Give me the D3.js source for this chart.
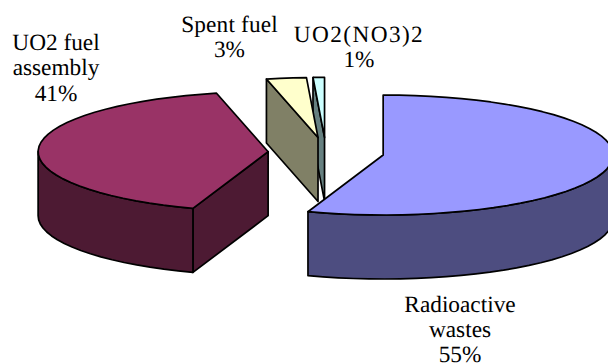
<!DOCTYPE html>
<html>
<head>
	<script src="https://d3js.org/d3.v7.min.js"></script>
	<meta charset="utf-8">
	<title>Waste pie</title>
	<style>
		html, body { margin: 0; padding: 0; background: #fff; overflow: hidden; }
		svg { display: block; }
		text { font-family: "Liberation Serif", serif; font-size: 23.3px; fill: #000; text-rendering: geometricPrecision; }
	</style>
</head>
<body>
	<div id="chart"></div>

	<script type="text/javascript">
		// data, labels show the rounded value
		var categories = ["Radioactive wastes", "UO2 fuel assembly", "Spent fuel", "UO2(NO3)2"];
		var values = [55.3, 41.1, 2.8, 0.8];
		var topColors = ["#9999ff", "#993366", "#ffffcc", "#ccffff"];
		var sideColors = ["#4d4d80", "#4d1a33", "#808066", "#668080"];
		var labelLines = [["Radioactive", "wastes"], ["UO2 fuel", "assembly"], ["Spent fuel"], ["UO2(NO3)2"]];
		var labelX = [460, 56, 229.5, 359];
		var labelY = [311.5, 50, 32, 42];
		var labelSpacing = [0, 0, 0.15, 1.4];

		var width = 608, height = 363;
		var cx = 326, cy = 152.5;   // pie centre before exploding
		var rx = 230, ry = 60;      // ellipse of the tilted pie
		var depth = 64;
		var explode = 0.252;
		var lineGap = 25.3;
		var step = Math.PI / 45;

		var svg = d3.select("#chart").append("svg")
			.attr("width", width)
			.attr("height", height);

		var slices = d3.pie().sort(null)(values).map(function(d, i) {
			var mid = (d.startAngle + d.endAngle) / 2;
			d.i = i;
			d.x0 = cx + rx * explode * Math.sin(mid);
			d.y0 = cy - ry * explode * Math.cos(mid);
			return d;
		});

		// angle on the ellipse of one slice to a screen point
		function pt(d, a, drop) {
			return [d.x0 + rx * Math.sin(a), d.y0 - ry * Math.cos(a) + (drop || 0)];
		}

		function arcPts(d, a0, a1, drop) {
			var n = Math.max(1, Math.ceil((a1 - a0) / step));
			return d3.range(n + 1).map(function(k) {
				return pt(d, a0 + (a1 - a0) * k / n, drop);
			});
		}

		var line = d3.line().curve(d3.curveLinearClosed);

		function cutWall(d, a) {
			var c = [d.x0, d.y0];
			var e = pt(d, a);
			return line([c, e, [e[0], e[1] + depth], [c[0], c[1] + depth]]);
		}

		function outerWall(d) {
			var a0 = Math.max(d.startAngle, Math.PI / 2);
			var a1 = Math.min(d.endAngle, Math.PI * 1.5);
			if (a1 <= a0) return null;
			return line(arcPts(d, a0, a1, 0).concat(arcPts(d, a0, a1, depth).reverse()));
		}

		function topFace(d) {
			return line([[d.x0, d.y0]].concat(arcPts(d, d.startAngle, d.endAngle, 0)));
		}

		// back to front, the last slices are the ones behind
		var groups = svg.selectAll(".slice")
			.data(slices.slice().reverse())
			.enter()
			.append("g")
			.attr("class", "slice")
			.attr("stroke", "#000")
			.attr("stroke-width", 1.7)
			.attr("stroke-linejoin", "round");

		groups.each(function(d) {
			var g = d3.select(this);
			// the cut face at the start angle only faces us past 180deg
			if (d.startAngle > Math.PI) {
				g.append("path").attr("d", cutWall(d, d.startAngle)).attr("fill", sideColors[d.i]);
			}
			if (d.endAngle < Math.PI) {
				g.append("path").attr("d", cutWall(d, d.endAngle)).attr("fill", sideColors[d.i]);
			}
			var w = outerWall(d);
			if (w) g.append("path").attr("d", w).attr("fill", sideColors[d.i]);
			g.append("path").attr("d", topFace(d)).attr("fill", topColors[d.i]);
		});

		var labels = svg.selectAll(".label")
			.data(slices)
			.enter()
			.append("text")
			.attr("class", "label")
			.attr("text-anchor", "middle")
			.attr("y", function(d) { return labelY[d.i]; });

		labels.each(function(d) {
			var t = d3.select(this);
			labelLines[d.i].concat([Math.round(d.value) + "%"]).forEach(function(s, k) {
				t.append("tspan")
					.attr("x", labelX[d.i])
					.attr("y", labelY[d.i] + k * lineGap)
					.attr("letter-spacing", k < labelLines[d.i].length ? labelSpacing[d.i] : 0)
					.text(s);
			});
		});
	</script>
</body>
</html>
